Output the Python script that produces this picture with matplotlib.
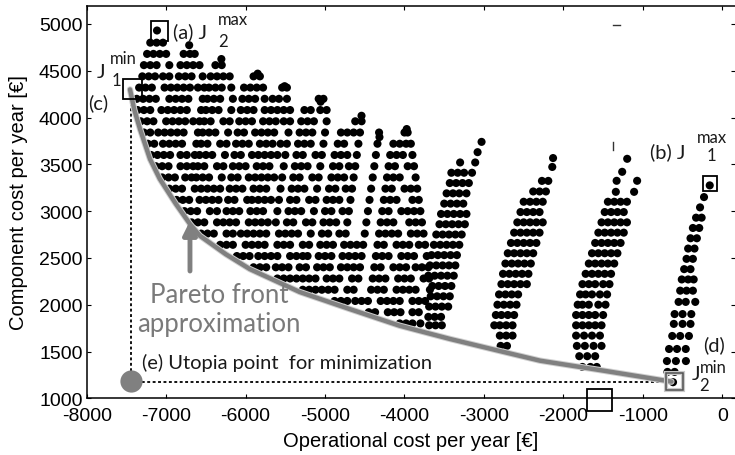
import matplotlib
matplotlib.use("Agg")
import matplotlib.pyplot as plt
from matplotlib.patches import Rectangle

# ---------------------------------------------------------------
# Design points (operational cost x, component cost y), row by row
# ---------------------------------------------------------------
# dense left block, upper rows
blockA_up_y = [4800, 4680, 4560, 4440, 4320, 4200, 4080, 3960, 3840, 3720, 3600, 3480]
blockA_up_x = [
    [-7200, -7120, -7040],
    [-7240, -7160, -7080, -7000, -6780, -6700, -6640],
    [-7280, -7200, -7120, -6960, -6820, -6740, -6660, -6580, -6380, -6300],
    [-7300, -7220, -7140, -7040, -6960, -6840, -6760, -6680, -6540, -6440, -6360, -6280, -6200,
     -5900, -5820],
    [-7340, -7260, -7180, -7020, -6940, -6860, -6780, -6700, -6600, -6520, -6460, -6380, -6300,
     -6180, -6020, -5940, -5860, -5780, -5540, -5480],
    [-7370, -7290, -7210, -7130, -6960, -6880, -6800, -6720, -6540, -6480, -6400, -6320, -6160,
     -6040, -5960, -5880, -5760, -5660, -5580, -5480, -5080, -5020],
    [-7360, -7280, -7200, -7060, -6980, -6900, -6820, -6740, -6560, -6500, -6420, -6340, -6180,
     -6060, -5980, -5900, -5760, -5680, -5600, -5520, -5440, -5260, -5180, -5060, -4980],
    [-7320, -7240, -7160, -7000, -6920, -6840, -6760, -6660, -6580, -6520, -6440, -6280, -6200,
     -6080, -6000, -5920, -5780, -5700, -5620, -5520, -5440, -5300, -5220, -5140, -4980,
     -4620, -4540],
    [-7280, -7200, -7100, -7020, -6940, -6860, -6780, -6600, -6540, -6460, -6380, -6220, -6100,
     -6020, -5880, -5800, -5720, -5640, -5460, -5320, -5240, -5160, -5000, -4800, -4720,
     -4640, -4560, -4320, -4000, -3960],
    [-7230, -7150, -7040, -6960, -6880, -6800, -6620, -6560, -6480, -6320, -6240, -6120, -6040,
     -5960, -5820, -5740, -5660, -5560, -5480, -5340, -5260, -5180, -5020, -4840, -4760,
     -4580, -4340, -4140, -4060, -3980, -3920],
    [-7190, -7110, -7030, -6950, -6820, -6740, -6640, -6580, -6500, -6420, -6260, -6140, -6060,
     -5920, -5840, -5760, -5680, -5600, -5500, -5360, -5280, -5120, -5040, -4880, -4800,
     -4720, -4600, -4360, -4180, -4100, -4020, -3900],
    [-7130, -7050, -6970, -6820, -6740, -6660, -6600, -6520, -6360, -6280, -6160, -6080, -6000,
     -5860, -5780, -5700, -5520, -5380, -5300, -5220, -5060, -4900, -4820, -4700, -4620,
     -4380, -4200, -4120, -3960, -3880],
]

# dense left block, lower rows
blockA_low_y = [3360, 3240, 3120, 3000, 2880, 2760, 2640, 2520, 2400, 2280, 2160, 2040, 1920, 1800]
blockA_low_x = [
    [-7050, -6970, -6890, -6760, -6680, -6620, -6540, -6460, -6300, -6180, -6100, -5960, -5880,
     -5800, -5720, -5640, -5540, -5400, -5320, -5160, -5080, -4920, -4840, -4760, -4640,
     -4400, -4220, -4140, -4060, -3860],
    [-6960, -6880, -6800, -6640, -6560, -6480, -6400, -6320, -6200, -6120, -6040, -5900, -5820,
     -5740, -5560, -5420, -5340, -5260, -5100, -4950, -4870, -4740, -4660, -4420, -4240,
     -4160, -4000, -3920, -3840],
    [-6870, -6790, -6710, -6580, -6500, -6420, -6340, -6220, -6140, -5980, -5920, -5840, -5760,
     -5680, -5580, -5440, -5360, -5200, -5120, -4980, -4900, -4820, -4680, -4440, -4260,
     -4180, -4100, -3900, -3820],
    [-6770, -6690, -6610, -6450, -6360, -6240, -6160, -6080, -5940, -5860, -5780, -5600, -5460,
     -5380, -5300, -5140, -5000, -4920, -4780, -4700, -4460, -4280, -4200, -4040, -3960,
     -3880, -3800],
    [-6680, -6600, -6520, -6360, -6280, -6200, -6120, -5960, -5880, -5800, -5720, -5620, -5480,
     -5400, -5240, -5160, -5020, -4940, -4860, -4720, -4480, -4300, -4220, -4140, -3940,
     -3860, -3780],
    [-6560, -6480, -6400, -6240, -6160, -6060, -5980, -5900, -5820, -5740, -5580, -5500, -5420,
     -5340, -5180, -5040, -4960, -4820, -4740, -4500, -4320, -4240, -4160, -4080, -3920,
     -3840, -3760],
    [-6320, -6240, -6160, -6000, -5920, -5840, -5760, -5600, -5520, -5440, -5280, -5200, -5060,
     -4980, -4900, -4760, -4680, -4600, -4520, -4340, -4260, -4100, -4020, -3940, -3820,
     -3740],
    [-6110, -6030, -5950, -5840, -5760, -5680, -5600, -5440, -5360, -5280, -5220, -5080, -5000,
     -4920, -4780, -4700, -4620, -4540, -4360, -4280, -4200, -4040, -3960, -3880, -3720],
    [-5900, -5820, -5740, -5620, -5540, -5460, -5320, -5240, -5100, -5020, -4940, -4800, -4720,
     -4640, -4560, -4380, -4300, -4140, -4060, -3980, -3860, -3780, -3700],
    [-5600, -5520, -5440, -5360, -5280, -5200, -5120, -4980, -4900, -4820, -4660, -4580, -4400,
     -4320, -4240, -4080, -4000, -3920, -3760, -3690],
    [-5280, -5200, -5120, -5040, -4960, -4880, -4720, -4640, -4420, -4340, -4260, -4100, -4020,
     -3940, -3860, -3680],
    [-4880, -4800, -4720, -4620, -4540, -4460, -4300, -4220, -4140, -4060, -3900, -3820, -3740],
    [-4450, -4370, -4210, -4130, -4050, -3900, -3820],
    [-4060, -3980, -3900, -3800],
]

# isolated top points of the left block columns
column_top_x = [-7115, -6710, -6305, -5848, -5509, -5056, -4541, -4315, -3972]
column_top_y = [4930, 4773, 4625, 4469, 4335, 4169, 4019, 3791, 3877]

# band around -3000 EUR
bandB_y = [3740, 3630, 3520, 3410, 3300, 3190, 3080, 2970, 2860, 2750, 2640, 2530, 2420, 2310,
           2200, 2090, 1980, 1870, 1780]
bandB_x = [
    [-3030], [-3080], [-3300, -3110], [-3410, -3330, -3250, -3150],
    [-3430, -3350, -3270, -3190], [-3470, -3390, -3310, -3220], [-3500, -3420, -3340, -3260],
    [-3540, -3460, -3380, -3300, -3220], [-3560, -3480, -3400, -3320, -3240],
    [-3600, -3520, -3440, -3360, -3280], [-3630, -3550, -3470, -3390, -3310],
    [-3660, -3580, -3500, -3420, -3340], [-3680, -3600, -3520, -3440, -3360],
    [-3700, -3620, -3540, -3460, -3380], [-3650, -3570, -3490, -3410],
    [-3670, -3590, -3510, -3430], [-3690, -3610, -3530, -3450], [-3700, -3620, -3540],
    [-3690, -3610, -3530],
]

# band around -2400 EUR
bandC_y = [3567, 3472, 3323, 3210, 3100, 2990, 2880, 2770, 2660, 2550, 2440, 2330, 2220, 2110,
           2000, 1890, 1780, 1670, 1560]
bandC_x = [
    [-2130], [-2140], [-2270, -2190], [-2380, -2300, -2220], [-2500, -2420, -2340, -2260],
    [-2540, -2460, -2380, -2300], [-2580, -2500, -2420, -2340, -2260],
    [-2620, -2540, -2460, -2380, -2300], [-2660, -2580, -2500, -2420, -2340],
    [-2700, -2620, -2540, -2460, -2380], [-2730, -2650, -2570, -2490, -2410],
    [-2760, -2680, -2600, -2520, -2440], [-2780, -2700, -2620, -2540, -2460],
    [-2810, -2730, -2650, -2570], [-2830, -2750, -2670, -2590], [-2850, -2780, -2700, -2620],
    [-2870, -2800, -2720, -2640], [-2800, -2720, -2640], [-2790, -2710],
]

# band around -1500 EUR
bandD_y = [3559, 3420, 3324, 3206, 3100, 2990, 2880, 2770, 2660, 2550, 2440, 2330, 2220, 2110,
           2000, 1890, 1780, 1670, 1560, 1450, 1335]
bandD_x = [
    [-1197], [-1260], [-1330, -1072], [-1340, -1110], [-1440, -1360, -1280, -1200],
    [-1480, -1400, -1320, -1240], [-1520, -1440, -1360, -1280, -1200],
    [-1560, -1480, -1400, -1320, -1240], [-1600, -1520, -1440, -1360, -1280],
    [-1640, -1560, -1480, -1400, -1320], [-1680, -1600, -1520, -1440, -1360],
    [-1720, -1640, -1560, -1480, -1400], [-1760, -1680, -1600, -1500, -1420],
    [-1790, -1720, -1640, -1540, -1450], [-1820, -1760, -1680, -1560, -1470],
    [-1840, -1760, -1680, -1600, -1500], [-1840, -1760, -1680, -1600, -1520],
    [-1840, -1740, -1640, -1540], [-1830, -1730, -1620, -1520], [-1800, -1700, -1600],
    [-1760, -1660, -1580],
]

# band around -400 EUR
bandE_y = [3275, 3150, 3040, 2930, 2820, 2710, 2600, 2490, 2380, 2270, 2150, 2030, 1900, 1795,
           1666, 1527, 1398, 1282, 1172]
bandE_x = [
    [-158], [-230], [-280], [-330, -260], [-370, -290], [-400, -320], [-430, -350], [-450, -370],
    [-480, -400], [-510, -430, -360], [-530, -450, -370], [-550, -460, -340], [-600, -500, -390],
    [-610, -500, -400], [-630, -530, -420], [-670, -570, -460], [-697, -584, -458], [-690, -600],
    [-620],
]

# Pareto front approximation
pareto_x = [-7455, -7400, -7329, -7203, -7079, -6880, -6700, -6576, -6250, -5947, -5319, -4691,
            -4063, -3427, -2805, -2294, -1500, -640]
pareto_y = [4300, 4080, 3877, 3556, 3343, 3080, 2862, 2737, 2540, 2381, 2136, 1954, 1776, 1634,
            1506, 1402, 1296, 1178]

# extreme points
j1_min = (-7440, 4300)
j2_min = (-620, 1172)
j1_max = (-158, 3275)
j2_max = (-7115, 4930)
utopia = (-7440, 1172)

x_ticks = [-8000, -7000, -6000, -5000, -4000, -3000, -2000, -1000, 0]
y_ticks = [1000, 1500, 2000, 2500, 3000, 3500, 4000, 4500, 5000]

# ---------------------------------------------------------------
plt.rcParams["font.family"] = ["Liberation Sans", "DejaVu Sans"]
ANNOT_FONT = ["Lato", "DejaVu Sans"]

fig = plt.figure(figsize=(7.35, 4.56), dpi=100)
ax = fig.add_axes([86.7 / 735, 56.7 / 456, 1 - 86.7 / 735, 392.6 / 456])

DOT = 34


def flat(ys, xs):
    px = [x for row in xs for x in row]
    py = [y for y, row in zip(ys, xs) for _ in row]
    return px, py


for ys, xs in [(blockA_up_y, blockA_up_x), (blockA_low_y, blockA_low_x), (bandB_y, bandB_x),
               (bandC_y, bandC_x), (bandD_y, bandD_x), (bandE_y, bandE_x)]:
    px, py = flat(ys, xs)
    ax.scatter(px, py, s=DOT, c="black", edgecolors="none", zorder=2)
ax.scatter(column_top_x, column_top_y, s=DOT, c="black", edgecolors="none", zorder=2)

# utopia construction lines
ax.plot([utopia[0], utopia[0]], [utopia[1], j1_min[1] - 20], ls=(0, (1.6, 1.4)),
        color="black", lw=1.3, zorder=3)
ax.plot([utopia[0], j2_min[0]], [utopia[1], utopia[1]], ls=(0, (1.6, 1.4)),
        color="black", lw=1.3, zorder=3)

# Pareto front
ax.plot(pareto_x, pareto_y, color="#d0d0d0", lw=4.6, solid_capstyle="round",
        solid_joinstyle="round", zorder=3)
ax.plot(pareto_x, pareto_y, color="#808080", lw=3.2, solid_capstyle="round",
        solid_joinstyle="round", zorder=3)

# utopia point
ax.plot(utopia[0] - 5, utopia[1] + 8, "o", ms=16, color="#808080", mec="none", zorder=4,
        clip_on=False)

# boxes around extreme points
ax.add_patch(Rectangle((-7194, 4821), 221, 214, fill=False, ec="black", lw=1.3, zorder=4))
ax.add_patch(Rectangle((-7547, 4198), 239, 214, fill=False, ec="black", lw=1.3, zorder=4))
ax.add_patch(Rectangle((-247, 3218), 177, 154, fill=False, ec="black", lw=1.3, zorder=4))
ax.add_patch(Rectangle((-709, 1089), 214, 181, fill=False, ec="#c8c8c8", lw=3.0, zorder=4))
ax.add_patch(Rectangle((-709, 1089), 214, 181, fill=False, ec="#505050", lw=1.1, zorder=4))
ax.add_patch(Rectangle((-1707, 864), 315, 235, fill=False, ec="black", lw=1.3, zorder=4,
                       clip_on=False))

# two small leftover tick marks inside the frame
ax.plot([-1376, -1290], [4985, 4985], color="#333333", lw=1.0, zorder=3)
ax.plot([-1376, -1376], [3735, 3650], color="#333333", lw=1.0, zorder=3)

# arrow pointing at the front
ax.annotate("", xy=(-6700, 2895), xytext=(-6700, 2360),
            arrowprops=dict(arrowstyle="-|>", color="#808080", lw=3.5, mutation_scale=20,
                            shrinkA=0, shrinkB=0), zorder=4)

txt = dict(family=ANNOT_FONT, color="#1a1a1a", va="center", ha="left", zorder=5)
ax.text(-6914, 4925, "(a) J", fontsize=14.5, **txt)
ax.text(-6347, 5052, "max", fontsize=12, **txt)
ax.text(-6347, 4818, "2", fontsize=12, **txt)

ax.text(-7870, 4497, "J", fontsize=14.5, clip_on=False, **txt)
ax.text(-7707, 4637, "min", fontsize=12, **txt)
ax.text(-7685, 4401, "1", fontsize=12, **txt)
ax.text(-7984, 4161, "(c)", fontsize=14.5, clip_on=False, **txt)

ax.text(-910, 3643, "(b) J", fontsize=14.5, **txt)
ax.text(-322, 3787, "max", fontsize=12, **txt)
ax.text(-196, 3600, "1", fontsize=12, **txt)

ax.text(-243, 1580, "(d)", fontsize=14.5, **txt)
ax.text(-385, 1270, "J", fontsize=14.5, **txt)
ax.text(-281, 1335, "min", fontsize=12, **txt)
ax.text(-294, 1142, "2", fontsize=12, **txt)

ax.text(-7300, 1385, "(e) Utopia point  for minimization", fontsize=14.5, **txt)

ax.text(-6335, 1954, "Pareto front\napproximation", fontsize=18.5, family=ANNOT_FONT,
        color="#7a7a7a", ha="center", va="center", linespacing=1.2, zorder=5)

# axes styling
ax.set_xlim(-8000, 160)
ax.set_ylim(1000, 5195)
ax.set_xticks(x_ticks)
ax.set_yticks(y_ticks)
ax.set_xticklabels([str(v) for v in x_ticks])
ax.set_yticklabels([str(v) for v in y_ticks])
ax.tick_params(direction="in", length=3, width=0.8, top=True, right=True, labelsize=14)
ax.tick_params(axis="x", pad=6)
ax.tick_params(axis="y", pad=3)
ax.spines["right"].set_visible(False)
for s in ["left", "bottom", "top"]:
    ax.spines[s].set_linewidth(1.1)
ax.set_xlabel("Operational cost per year [€]", fontsize=14.5, labelpad=5)
ax.set_ylabel("Component cost per year [€]", fontsize=14.5, labelpad=8)

fig.savefig("out.png", dpi=100)
